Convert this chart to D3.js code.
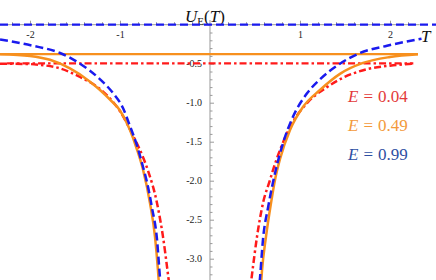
<!DOCTYPE html>
<html><head><meta charset="utf-8">
<script src="https://cdn.jsdelivr.net/npm/d3@7"></script>
<style>html,body{margin:0;padding:0;background:#fff;}svg{display:block;}</style>
</head><body>
<script>
// ---- data ----
const energies = ["0.04", "0.49", "0.99"];
const asymptotes = [-0.495, -0.376, 0.0];

// E = 0.04 (red, dash-dot)
const redLeftT  = [-2.333,-2.0,-1.889,-1.667,-1.444,-1.222,-1.078,-1.0,-0.856,-0.744,-0.689,-0.589,-0.522,-0.467,-0.44];
const redLeftU  = [-0.50,-0.505,-0.515,-0.56,-0.67,-0.825,-0.99,-1.11,-1.42,-1.70,-1.87,-2.286,-2.72,-3.20,-3.45];
const redRightT = [0.44,0.467,0.522,0.589,0.667,0.7,0.778,0.889,1.078,1.3,1.478,1.744,2.0,2.25];
const redRightU = [-3.45,-3.20,-2.72,-2.286,-1.99,-1.863,-1.606,-1.312,-1.005,-0.80,-0.68,-0.57,-0.525,-0.50];

// E = 0.49 (orange, solid)
const orangeLeftT  = [-2.333,-2.0,-1.778,-1.556,-1.333,-1.222,-1.111,-1.0,-0.889,-0.811,-0.744,-0.667,-0.611,-0.578,-0.56];
const orangeLeftU  = [-0.378,-0.40,-0.45,-0.56,-0.73,-0.837,-0.96,-1.10,-1.35,-1.60,-1.86,-2.286,-2.72,-3.15,-3.45];
const orangeRightT = [0.56,0.578,0.622,0.678,0.722,0.778,0.889,1.033,1.222,1.444,1.7,2.0,2.311];
const orangeRightU = [-3.45,-3.15,-2.72,-2.286,-1.99,-1.72,-1.35,-1.056,-0.837,-0.63,-0.49,-0.414,-0.378];

// E = 0.99 (blue, dashed)
const blueLeftT  = [-2.333,-1.967,-1.667,-1.444,-1.222,-1.078,-0.967,-0.889,-0.811,-0.744,-0.7,-0.644,-0.589,-0.556,-0.54];
const blueLeftU  = [-0.19,-0.27,-0.363,-0.50,-0.70,-0.876,-1.068,-1.30,-1.55,-1.824,-2.02,-2.35,-2.75,-3.24,-3.45];
const blueRightT = [0.54,0.556,0.589,0.644,0.7,0.744,0.811,0.922,1.078,1.222,1.444,1.667,1.967,2.35];
const blueRightU = [-3.45,-3.24,-2.75,-2.35,-2.02,-1.80,-1.52,-1.18,-0.88,-0.70,-0.50,-0.363,-0.27,-0.18];

const xTickValues = [-2, -1, 1, 2];
const yTickValues = [-0.5, -1.0, -1.5, -2.0, -2.5, -3.0];

// ---- drawing ----
const W = 436, H = 280;
const svg = d3.select("body").append("svg").attr("width", W).attr("height", H);
const x = d3.scaleLinear().domain([-2.3333, 2.5111]).range([0, W]);
const y = d3.scaleLinear().domain([0.3167, -3.2731]).range([0, H]);

const serif = "'Liberation Serif','DejaVu Serif',serif";
const axisGray = "#9a9a9a";

svg.append("defs").append("clipPath").attr("id","clip")
  .append("rect").attr("x",0).attr("y",0).attr("width",W).attr("height",H);

// minor ticks x
const xMinor = d3.range(-22, 24, 2).map(d => d/10).filter(d => Math.abs(d) > 1e-9 && !xTickValues.includes(d));
const gx = svg.append("g").attr("transform", `translate(0,${y(0)})`);
gx.call(d3.axisBottom(x).tickValues(xMinor).tickSize(-2.5).tickFormat(""));
gx.call(g => g.select(".domain").remove());
const gx2 = svg.append("g").attr("transform", `translate(0,${y(0)})`);
gx2.call(d3.axisBottom(x).tickValues(xTickValues).tickSize(-4).tickPadding(6).tickFormat(d => String(d)));
gx2.select(".domain").remove();
svg.append("line").attr("x1", x(-2.3333)).attr("x2", x(2.33)).attr("y1", y(0)).attr("y2", y(0))
  .attr("stroke", axisGray).attr("stroke-width", 1);

// y axis
const yMinor = d3.range(-32, 1, 1).map(d => d/10).filter(d => Math.abs(d) > 1e-9 && Math.abs(d*2 - Math.round(d*2)) > 1e-6);
const gy = svg.append("g").attr("transform", `translate(${x(0)},0)`);
gy.call(d3.axisLeft(y).tickValues(yMinor).tickSize(-2.5).tickFormat(""));
gy.select(".domain").remove();
const gy2 = svg.append("g").attr("transform", `translate(${x(0)},0)`);
gy2.call(d3.axisLeft(y).tickValues(yTickValues).tickSize(-4).tickPadding(8).tickFormat(d => d.toFixed(1)));
gy2.select(".domain").remove();
svg.append("line").attr("x1", x(0)).attr("x2", x(0)).attr("y1", y(0.06)).attr("y2", H)
  .attr("stroke", axisGray).attr("stroke-width", 1);

svg.selectAll(".tick line").attr("stroke", axisGray);
svg.selectAll(".tick text").attr("font-family", serif).attr("font-size", 10).attr("fill", "#222");

// axis labels
const lab = svg.append("text").attr("x", 185).attr("y", 22).attr("font-family", serif).attr("font-size", 17).attr("fill","#111");
lab.append("tspan").attr("font-style","italic").text("U");
lab.append("tspan").attr("font-size", 11).attr("dy", 3).attr("dx", 0).text("E");
lab.append("tspan").attr("dy", -3).text("(");
lab.append("tspan").attr("font-style","italic").text("T");
lab.append("tspan").text(")");
svg.append("text").attr("x", 421).attr("y", 42).attr("font-family", serif).attr("font-size", 17)
  .attr("font-style","italic").attr("fill","#111").text("T");

const colors = ["#ff1a1a", "#f7901e", "#1a1aee"];
const textColors = ["#e33b3b", "#f39a3c", "#2e4fa3"];
const dashes = ["7,3,2.5,3", null, "8,4"];

const plot = svg.append("g").attr("clip-path","url(#clip)");
const line = d3.line().x(d => x(d[0])).y(d => y(d[1])).curve(d3.curveMonotoneX);

// horizontal asymptote lines
const hExtent = [[-2.255, 2.259], [-2.3333, 2.311], [-2.3333, 2.5111]];
asymptotes.forEach((a, i) => {
  plot.append("path").attr("d", line([[hExtent[i][0], a], [hExtent[i][1], a]]))
    .attr("fill","none").attr("stroke", colors[i]).attr("stroke-width", 2.2)
    .attr("stroke-dasharray", dashes[i]);
});

const series = [
  [[redLeftT, redLeftU], [redRightT, redRightU]],
  [[orangeLeftT, orangeLeftU], [orangeRightT, orangeRightU]],
  [[blueLeftT, blueLeftU], [blueRightT, blueRightU]]
];
series.forEach((branches, i) => {
  branches.forEach(([ts, us]) => {
    plot.append("path").attr("d", line(d3.zip(ts, us)))
      .attr("fill","none").attr("stroke", colors[i]).attr("stroke-width", 2.5)
      .attr("stroke-dasharray", dashes[i]);
  });
});

// legend
energies.forEach((e, i) => {
  const t = svg.append("text").attr("x", 348).attr("y", 102 + i*29).attr("font-family", serif)
    .attr("font-size", 17).attr("fill", textColors[i]);
  t.append("tspan").attr("font-style","italic").text("E");
  t.append("tspan").attr("dx", 5).text("=");
  t.append("tspan").attr("dx", 5).text(e);
});
</script>
</body></html>
